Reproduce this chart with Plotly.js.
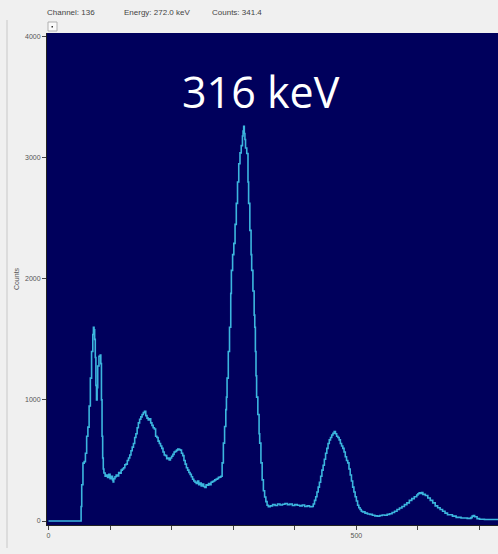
<!DOCTYPE html>
<html>
<head>
<meta charset="utf-8">
<script src="https://cdn.plot.ly/plotly-3.0.1.min.js"></script>
<style>html,body{margin:0;padding:0;background:#f0f0f0;}#chart{width:498px;height:554px;}</style>
</head>
<body>
<div id="chart"></div>
<script>
const channels = [0,52,53,54,56,58,60,62,64,66,68,70,72,73,74,75,76,77,78,79,80,82,84,85,86,87,88,89,90,92,94,96,98,100,102,104,105,106,108,110,112,114,116,118,120,122,124,126,128,130,132,134,136,138,140,142,144,146,148,150,152,154,156,158,160,162,164,166,168,170,172,174,176,178,180,182,184,186,188,190,192,194,196,198,200,202,204,206,208,210,212,214,216,218,220,222,224,226,228,230,232,234,236,238,240,242,244,246,248,250,252,254,256,258,260,262,264,266,268,270,272,274,276,278,280,282,284,286,288,289,290,292,294,296,297,299,301,303,305,307,309,311,313,315,316,317,318,319,320,322,324,325,327,329,330,332,334,335,336,337,338,340,342,343,345,347,349,351,353,355,357,360,364,368,372,376,380,384,388,392,396,400,404,408,412,416,420,424,428,430,432,434,436,438,440,442,444,446,448,450,452,454,456,458,460,462,464,466,468,470,472,474,476,478,480,482,484,486,488,490,492,494,496,498,500,502,504,506,508,510,514,518,522,526,530,534,538,542,546,550,554,558,562,566,570,574,578,582,586,590,594,598,600,602,604,606,608,612,616,620,624,628,632,636,640,644,648,656,662,670,680,686,688,690,692,696,700,704,708,712,716,720,724,730];
const counts = [0,0,120,300,478,490,560,700,775,950,1180,1400,1540,1600,1580,1500,1350,1120,1000,1100,1280,1360,1370,1300,1000,700,520,430,396,370,380,360,385,350,370,340,322,350,365,380,372,400,395,420,430,440,465,470,500,520,545,580,610,640,690,720,770,810,840,860,880,895,905,870,850,835,845,810,790,770,760,700,690,660,640,620,600,570,545,540,515,520,505,520,535,550,570,575,585,595,590,585,560,540,500,470,440,420,400,385,365,345,330,320,310,330,300,314,290,305,285,278,300,295,310,300,320,325,330,340,345,350,360,362,370,480,643,780,920,1023,1180,1400,1600,1880,2070,2200,2293,2450,2623,2800,2950,3040,3100,3180,3220,3260,3200,3150,3080,3035,2800,2623,2400,2200,2070,1900,1700,1600,1400,1200,1023,880,720,643,480,340,250,198,160,130,118,125,135,128,140,132,138,145,135,140,128,135,130,125,132,120,125,118,120,140,170,200,240,280,320,370,420,460,510,560,600,640,670,690,710,725,738,720,700,690,670,640,620,600,570,530,500,480,430,380,330,280,240,200,165,130,110,95,80,75,65,58,55,48,42,40,45,50,48,55,60,70,80,95,108,120,135,150,170,185,200,215,225,232,228,235,220,210,190,170,150,125,110,95,80,65,52,40,30,25,22,28,40,45,35,20,15,14,13,12,12,12,12,12];
const yTicks = [0,1000,2000,3000,4000];
const xTicks = [0,100,200,300,400,500,600,700];
const xTickText = ['0','','','','','500','',''];

const L = 47, T = 33, R = 0, B = 29, W = 498, H = 554;
const pw = W - L - R, ph = H - T - B;
const px = x => (x - L) / pw;
const py = y => (H - B - y) / ph;

const trace = {
  x: channels, y: counts, type: 'scatter', mode: 'lines',
  line: {color: '#3cb6de', width: 1.6, shape: 'hv'},
  hoverinfo: 'skip'
};
const smallFont = {family: 'Liberation Sans, Arial, sans-serif', size: 7, color: '#555'};
const headFont = {family: 'Liberation Sans, Arial, sans-serif', size: 8, color: '#444'};
const layout = {
  width: W, height: H,
  margin: {l: L, r: R, t: T, b: B, pad: 0},
  paper_bgcolor: '#f0f0f0',
  plot_bgcolor: '#00005c',
  showlegend: false,
  xaxis: {
    range: [-2.4, 730], tickvals: xTicks, ticktext: xTickText,
    ticks: 'outside', ticklen: 4, tickcolor: '#444', showgrid: false, zeroline: false,
    showline: true, linecolor: '#222', linewidth: 1, tickfont: smallFont
  },
  yaxis: {
    range: [-33, 4030], tickvals: yTicks, ticktext: yTicks.map(String),
    ticks: 'outside', ticklen: 4, tickcolor: '#444', showgrid: false, zeroline: false,
    showline: true, linecolor: '#222', linewidth: 1, tickfont: smallFont,
    title: {text: 'Counts', font: smallFont, standoff: 4}
  },
  annotations: [
    {xref: 'paper', yref: 'paper', x: px(261), y: py(91), text: '316 keV', showarrow: false,
     font: {family: 'Open Sans, Noto Sans, sans-serif', size: 43, color: '#ffffff'}, xanchor: 'center', yanchor: 'middle'},
    {xref: 'paper', yref: 'paper', x: px(45), y: py(13), text: 'Channel: 136', showarrow: false,
     font: headFont, xanchor: 'left', yanchor: 'middle'},
    {xref: 'paper', yref: 'paper', x: px(122), y: py(13), text: 'Energy: 272.0 keV', showarrow: false,
     font: headFont, xanchor: 'left', yanchor: 'middle'},
    {xref: 'paper', yref: 'paper', x: px(210), y: py(13), text: 'Counts: 341.4', showarrow: false,
     font: headFont, xanchor: 'left', yanchor: 'middle'}
  ],
  shapes: [
    {type: 'line', xref: 'paper', yref: 'paper', x0: px(7), x1: px(7), y0: py(20), y1: py(548), line: {color: '#c8c8c8', width: 1}},
    {type: 'rect', xref: 'paper', yref: 'paper', x0: px(48), x1: px(57), y0: py(31), y1: py(22), line: {color: '#b0b0b0', width: 1}, fillcolor: '#fafafa'},
    {type: 'rect', xref: 'paper', yref: 'paper', x0: px(51.5), x1: px(53), y0: py(27.5), y1: py(26), line: {width: 0}, fillcolor: '#333'}
  ]
};
Plotly.newPlot('chart', [trace], layout, {displayModeBar: false, staticPlot: true});
</script>
</body>
</html>
